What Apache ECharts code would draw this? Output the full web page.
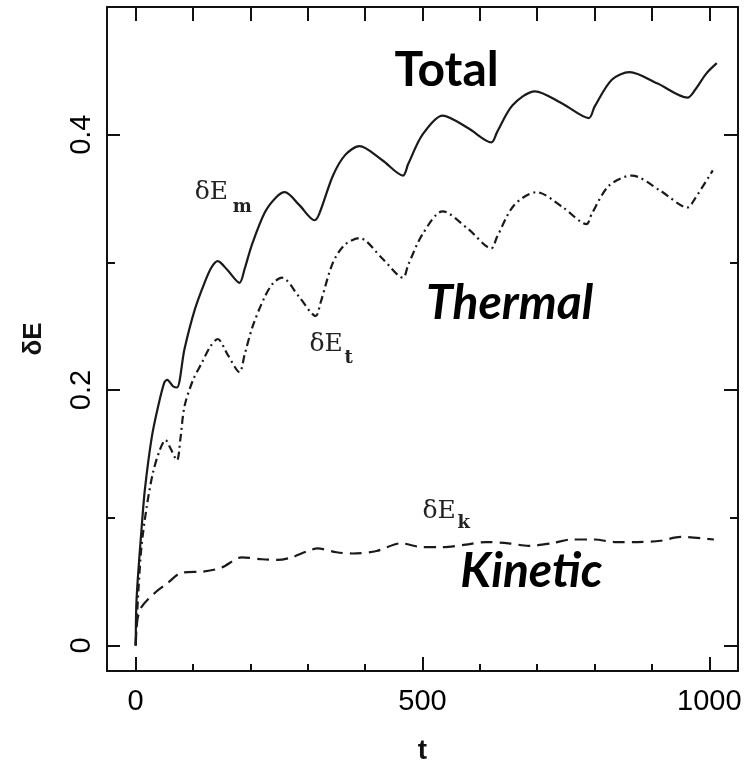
<!DOCTYPE html>
<html>
<head>
<meta charset="utf-8">
<script src="https://cdn.jsdelivr.net/npm/echarts@6/dist/echarts.min.js"></script>
<style>
html,body{margin:0;padding:0;background:#fff;}
#chart{width:753px;height:770px;}
</style>
</head>
<body>
<div id="chart"></div>
<script>
// ---- data ----
const tTotal = [0,1,3.5,10,16,28,39,50,55,65,72,85,103,120,132,143,160,181,190,202,225,245,260,285,312,320,344,365,390,430,466,475,500,535,580,620,630,657,696,745,790,800,830,861,910,962,975,995,1013];
const eTotal = [0,0.03,0.051,0.09,0.122,0.163,0.187,0.206,0.208,0.203,0.202,0.232,0.263,0.284,0.296,0.301,0.294,0.284,0.295,0.313,0.339,0.351,0.355,0.345,0.333,0.338,0.368,0.384,0.391,0.380,0.368,0.377,0.400,0.415,0.405,0.394,0.402,0.423,0.434,0.424,0.413,0.422,0.443,0.449,0.440,0.429,0.435,0.448,0.456];

const tThermal = [0,2,5,10,19,30,42,52,60,72,78,85,100,115,130,143,160,181,190,204,225,240,255,285,314,322,344,365,390,430,466,475,500,535,580,620,630,660,699,745,786,795,825,865,915,962,975,1006];
const eThermal = [0,0.02,0.045,0.077,0.108,0.135,0.153,0.161,0.155,0.145,0.162,0.187,0.208,0.221,0.234,0.240,0.228,0.214,0.228,0.250,0.273,0.284,0.288,0.273,0.258,0.268,0.300,0.314,0.319,0.303,0.288,0.298,0.322,0.340,0.326,0.311,0.320,0.345,0.355,0.343,0.330,0.338,0.360,0.368,0.356,0.343,0.350,0.372];

const tKinetic = [0,3,10,33,56,80,120,150,185,220,247,272,300,317,350,378,420,462,500,535,575,610,650,685,725,760,800,835,875,915,950,1008];
const eKinetic = [0,0.02,0.030,0.041,0.049,0.057,0.058,0.061,0.069,0.0675,0.067,0.069,0.074,0.076,0.073,0.072,0.074,0.080,0.077,0.077,0.079,0.081,0.080,0.078,0.080,0.083,0.083,0.081,0.081,0.082,0.085,0.083];

const xMajorTicks = [0,500,1000];
const xMinorTicks = [100,200,300,400,600,700,800,900];
const xTopTicks = [0,100,200,300,400,500,600,700,800,900,1000];
const yMajorTicks = [0,0.2,0.4];
const yMinorTicks = [0.1,0.3];

// annotation anchors in data coordinates
const bigLabels = [
  {text:'Total',   t:542, v:0.450, italic:false},
  {text:'Thermal', t:652, v:0.268, italic:true},
  {text:'Kinetic', t:690, v:0.058, italic:true}
];
const curveLabels = [
  {main:'δE', sub:'m', t:103, v:0.355, ts:169, vs:0.343},
  {main:'δE', sub:'t', t:303, v:0.2357, ts:364, vs:0.2250},
  {main:'δE', sub:'k', t:500, v:0.1053, ts:561, vs:0.0960}
];

const pairs = (ts, vs) => ts.map((t,i)=>[t, vs[i]]);

const INK = '#111';
const X_MIN = -50, X_MAX = 1050, Y_MIN = -0.02, Y_MAX = 0.5;
const labelFont = {fontFamily:'Liberation Sans', fontSize:29, color:'#000', formatter:(v)=>String(v)};

function xAx(extra){ return Object.assign({type:'value', min:X_MIN, max:X_MAX, splitLine:{show:false}}, extra); }
function yAx(extra){ return Object.assign({type:'value', min:Y_MIN, max:Y_MAX, splitLine:{show:false}}, extra); }

const chart = echarts.init(document.getElementById('chart'), null, {renderer:'canvas'});
const option = {
  animation:false,
  backgroundColor:'#fff',
  grid:{left:107, top:7, right:15, bottom:99, containLabel:false},
  xAxis:[
    xAx({position:'bottom',
      name:'t', nameLocation:'middle', nameGap:66,
      nameTextStyle:{fontFamily:'Liberation Sans', fontWeight:'bold', fontSize:28, color:'#111'},
      axisLine:{show:true, onZero:false, lineStyle:{color:INK, width:2}},
      axisTick:{show:true, inside:true, length:14, customValues:xMajorTicks, lineStyle:{color:INK, width:2}},
      axisLabel:{show:true, margin:16, customValues:xMajorTicks, ...labelFont}}),
    xAx({position:'bottom',
      axisLine:{show:false, onZero:false},
      axisTick:{show:true, inside:true, length:7, customValues:xMinorTicks, lineStyle:{color:INK, width:2}},
      axisLabel:{show:false}}),
    xAx({position:'top',
      axisLine:{show:true, onZero:false, lineStyle:{color:INK, width:2}},
      axisTick:{show:true, inside:true, length:14, customValues:xTopTicks, lineStyle:{color:INK, width:2}},
      axisLabel:{show:false}})
  ],
  yAxis:[
    yAx({position:'left',
      name:'δE', nameLocation:'middle', nameGap:60, nameRotate:90,
      nameTextStyle:{fontFamily:'Liberation Sans', fontWeight:'bold', fontSize:26, color:'#111'},
      axisLine:{show:true, onZero:false, lineStyle:{color:INK, width:2}},
      axisTick:{show:true, inside:true, length:13, customValues:yMajorTicks, lineStyle:{color:INK, width:2}},
      axisLabel:{show:true, rotate:90, margin:11, customValues:yMajorTicks, ...labelFont}}),
    yAx({position:'left',
      axisLine:{show:false, onZero:false},
      axisTick:{show:true, inside:true, length:8, customValues:yMinorTicks, lineStyle:{color:INK, width:2}},
      axisLabel:{show:false}}),
    yAx({position:'right',
      axisLine:{show:true, onZero:false, lineStyle:{color:INK, width:2}},
      axisTick:{show:true, inside:true, length:14, customValues:yMajorTicks, lineStyle:{color:INK, width:2}},
      axisLabel:{show:false}}),
    yAx({position:'right',
      axisLine:{show:false, onZero:false},
      axisTick:{show:true, inside:true, length:8, customValues:yMinorTicks, lineStyle:{color:INK, width:2}},
      axisLabel:{show:false}})
  ],
  series:[
    {name:'Total', type:'line', xAxisIndex:0, yAxisIndex:0, data:pairs(tTotal,eTotal),
     showSymbol:false, smooth:0.3, lineStyle:{color:'#1a1a1a', width:2.2, type:'solid'}},
    {name:'Thermal', type:'line', xAxisIndex:0, yAxisIndex:0, data:pairs(tThermal,eThermal),
     showSymbol:false, smooth:0.3, lineStyle:{color:'#1a1a1a', width:2.2, type:[8,4,2,4]}},
    {name:'Kinetic', type:'line', xAxisIndex:0, yAxisIndex:0, data:pairs(tKinetic,eKinetic),
     showSymbol:false, smooth:0.3, lineStyle:{color:'#1a1a1a', width:2.2, type:[12,7]}}
  ]
};
chart.setOption(option);

// annotations placed from data coordinates
const g = [];
bigLabels.forEach(b=>{
  const p = chart.convertToPixel({xAxisIndex:0, yAxisIndex:0}, [b.t, b.v]);
  g.push({type:'text', x:p[0], y:p[1], style:{text:b.text, fill:'#000',
    font:(b.italic?'italic ':'')+'bold 48px Lato', textAlign:'center', textVerticalAlign:'middle'}});
});
curveLabels.forEach(c=>{
  const p = chart.convertToPixel({xAxisIndex:0, yAxisIndex:0}, [c.t, c.v]);
  const q = chart.convertToPixel({xAxisIndex:0, yAxisIndex:0}, [c.ts, c.vs]);
  g.push({type:'text', x:p[0], y:p[1], style:{text:c.main, fill:'#222',
    font:'25px "DejaVu Serif"', textAlign:'left', textVerticalAlign:'middle'}});
  g.push({type:'text', x:q[0], y:q[1], style:{text:c.sub, fill:'#222',
    font:'bold 18px "DejaVu Serif"', textAlign:'left', textVerticalAlign:'middle'}});
});
chart.setOption({graphic:g});
</script>
</body>
</html>
